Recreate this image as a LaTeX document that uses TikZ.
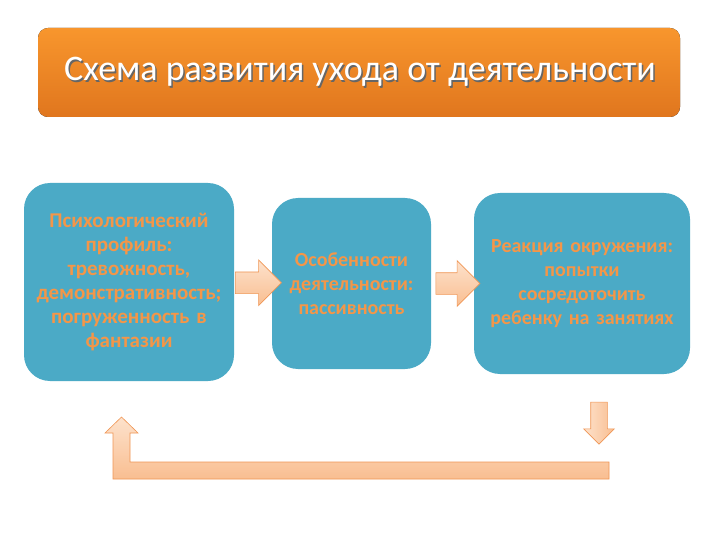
\documentclass[tikz,border=0pt]{standalone}
\usepackage{fontspec}
\setmainfont{Carlito}
\usetikzlibrary{shapes,arrows,positioning,calc}

\definecolor{boxblue}{RGB}{75,170,198}
\definecolor{txtorange}{RGB}{244,150,72}
\definecolor{barTop}{RGB}{248,150,45}
\definecolor{barBot}{RGB}{224,118,30}
\definecolor{peachLight}{RGB}{253,226,204}
\definecolor{peachDark}{RGB}{249,190,145}
\definecolor{peachLine}{RGB}{240,150,85}

\newcommand{\shadowtext}[1]{\makebox[0pt][l]{\hspace{1.5pt}\raisebox{-1.5pt}{\color{black!60}#1}}#1}

\begin{document}
\begin{tikzpicture}[x=1pt, y=-1pt,
    stage/.style={draw=none, fill=boxblue, rectangle, rounded corners=26pt, align=center, text=txtorange, font=\bfseries\fontsize{20}{24}\selectfont, inner sep=2pt},
    blockarrow/.style={single arrow, draw=peachLine, line width=0.6pt, top color=peachLight, bottom color=peachDark, single arrow head indent=0pt},
    feedback/.style={draw=peachLine, line width=0.6pt, top color=peachLight, bottom color=peachDark}
]
\useasboundingbox (0,0) rectangle (720,540);
\fill[white] (0,0) rectangle (720,540);

\fill[top color=barTop, bottom color=barBot, rounded corners=10pt]
    (38,117) [sharp corners] -- (38,40) [rounded corners=10pt] -- (38,28) -- (680,28)
    [sharp corners] -- (680,105) [rounded corners=10pt] -- (680,117) -- cycle;
\node[text=white, font=\fontsize{36}{40}\selectfont] (title) at (360,73) {\shadowtext{Схема развития ухода от деятельности}};

\node[stage, minimum width=210pt, minimum height=198pt, text width=206pt, font=\bfseries\fontsize{21}{24}\selectfont] (profile) at (129,282)
    {Психологический\\профиль:\\тревожность,\\демонстративность;\\погруженность в\\фантазии};
\node[stage, minimum width=159pt, minimum height=171pt, text width=155pt] (activity) at (351.5,283.5)
    {Особенности\\деятельности:\\пассивность};
\node[stage, minimum width=216pt, minimum height=181pt, text width=210pt] (reaction) at (582,283.5)
    {Реакция окружения:\\попытки\\сосредоточить\\ребенку на занятиях};

\node[blockarrow, minimum height=46pt, inner sep=10.5pt, single arrow head extend=12pt] (step1)
    at ($(profile.east)!0.5!(activity.west)$) {};
\node[blockarrow, minimum height=44pt, inner sep=10.5pt, single arrow head extend=12pt] (step2)
    at ($(activity.east)!0.5!(reaction.west)$) {};
\node[blockarrow, shape border rotate=270, minimum height=42pt, inner sep=8pt, single arrow head extend=7pt,
    left color=peachLight, right color=peachDark] (down) at (599,419) {};

\coordinate (back) at (121.5,470);
\draw[feedback] (609,462) -- (130,462) -- (130,433) -- (138,433) -- (121.5,417)
    -- (105,433) -- (113,433) -- (113,479) -- (609,479) -- cycle;
\end{tikzpicture}
\end{document}
